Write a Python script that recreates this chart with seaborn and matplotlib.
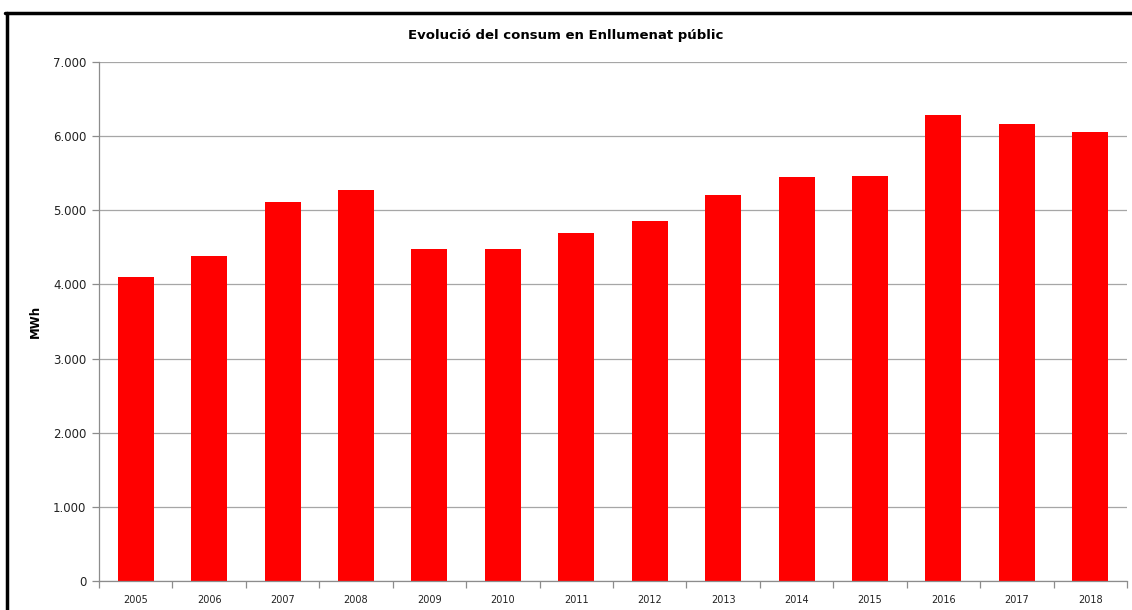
import matplotlib
matplotlib.use('Agg')
import matplotlib.pyplot as plt
import matplotlib.ticker as mticker
from matplotlib.lines import Line2D
import seaborn as sns
import pandas as pd
import numpy as np

years = ['2005', '2006', '2007', '2008', '2009', '2010', '2011',
         '2012', '2013', '2014', '2015', '2016', '2017', '2018']
consum_mwh = [4100, 4390, 5110, 5280, 4480, 4480, 4690,
              4850, 5200, 5450, 5460, 6290, 6170, 6050]

df = pd.DataFrame({'any': years, 'MWh': consum_mwh})

sns.set_style('white')
plt.rcParams['font.family'] = ['DejaVu Sans']
plt.rcParams['text.color'] = 'black'
plt.rcParams['axes.labelcolor'] = 'black'
plt.rcParams['xtick.color'] = '#222222'
plt.rcParams['ytick.color'] = '#222222'

fig = plt.figure(figsize=(11.32, 6.10), dpi=100)
ax = fig.add_axes([99 / 1132, 1 - 581 / 610, 1028 / 1132, 519 / 610])

sns.barplot(data=df, x='any', y='MWh', color='#ff0000', saturation=1,
            width=0.49, linewidth=0, ax=ax)

ax.set_ylim(0, 7000)
ax.set_xlim(-0.5, len(years) - 0.5)
ax.yaxis.set_major_locator(mticker.MultipleLocator(1000))
ax.yaxis.set_major_formatter(
    mticker.FuncFormatter(lambda v, p: f'{int(v):,}'.replace(',', '.')))
ax.grid(axis='y', color='#a6a6a6', linewidth=0.9)
ax.set_axisbelow(True)

# tick marks sit between the categories, like the spreadsheet chart
ax.set_xticks(np.arange(-0.5, len(years), 1), minor=True)
ax.tick_params(axis='x', which='major', bottom=True, length=0, labelsize=7, pad=10)
ax.tick_params(axis='x', which='minor', bottom=True, length=5, width=0.9,
               color='#8c8c8c', direction='out')
ax.tick_params(axis='y', left=True, length=5, width=0.9, color='#8c8c8c',
               direction='out', labelsize=8.5, pad=4)

for s in ['top', 'right']:
    ax.spines[s].set_visible(False)
for s in ['left', 'bottom']:
    ax.spines[s].set_color('#8c8c8c')
    ax.spines[s].set_linewidth(0.9)

ax.set_xlabel('')
ax.set_ylabel('MWh', fontsize=8.5, fontweight='bold', labelpad=8)

fig.text(0.5, 1 - 36 / 610, 'Evolució del consum en Enllumenat públic',
         ha='center', va='center', fontsize=9.5, fontweight='bold')

# frame of the original chart (cropped on the right and bottom)
fig.add_artist(Line2D([6.5 / 1132, 6.5 / 1132], [0, 1 - 13 / 610],
                      transform=fig.transFigure, color='black', linewidth=2.5))
fig.add_artist(Line2D([5.3 / 1132, 1], [1 - 13 / 610, 1 - 13 / 610],
                      transform=fig.transFigure, color='black', linewidth=2.5))

fig.savefig('out.png', dpi=100)
